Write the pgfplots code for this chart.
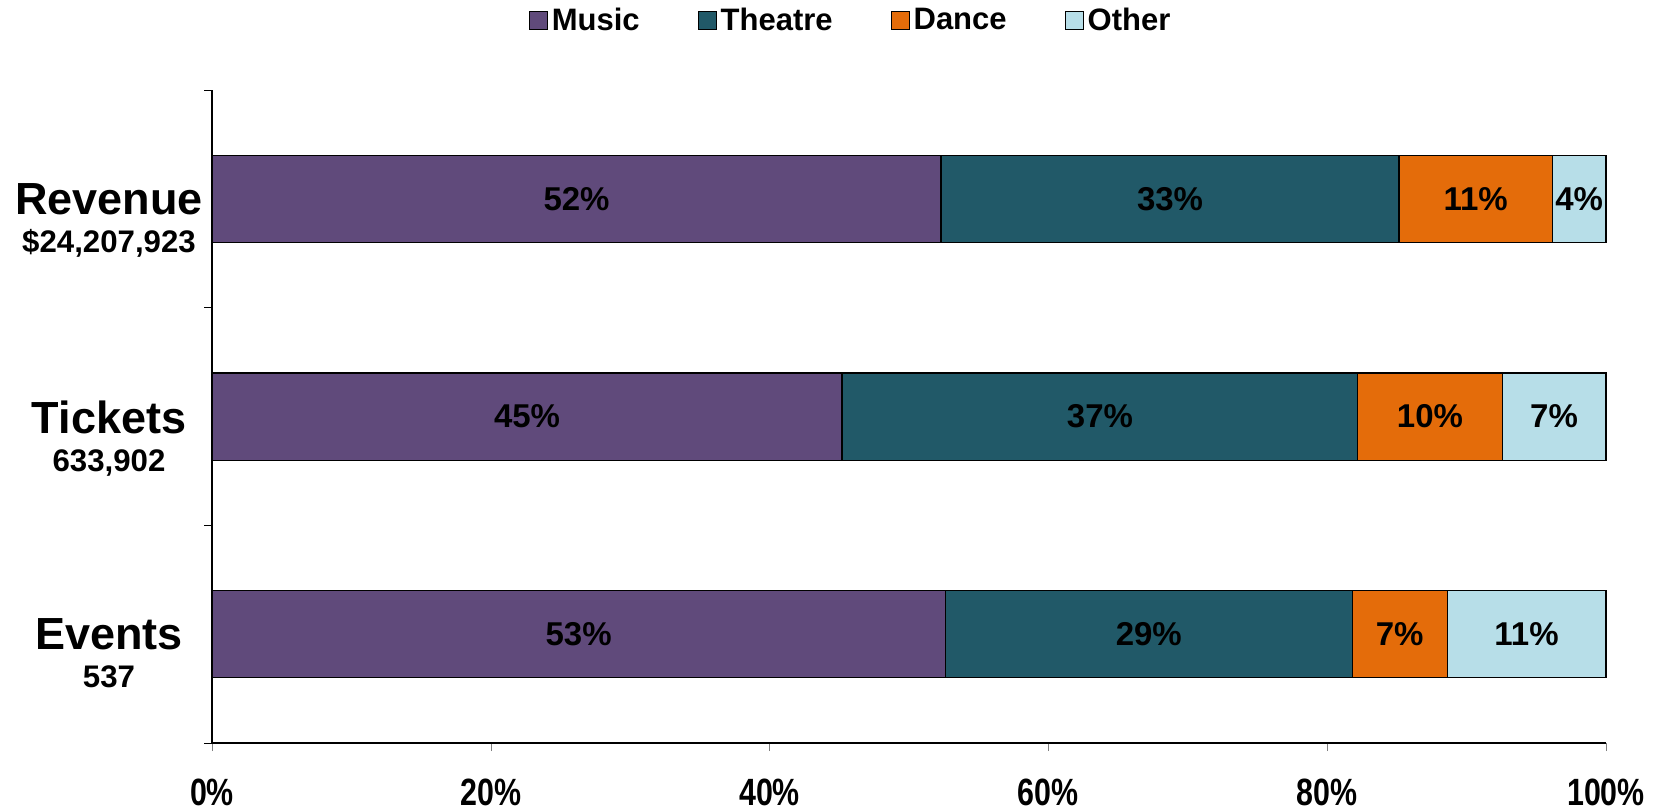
\documentclass[border=0pt]{standalone}
\usepackage{fontspec}
\setmainfont{Liberation Sans}
\newfontfamily\condensed[FakeStretch=0.8]{Liberation Sans}
\usepackage{pgfplots}
\usepackage{pgfplotstable}
\pgfplotsset{compat=1.18}
\definecolor{music}{HTML}{604A7B}
\definecolor{theatre}{HTML}{215968}
\definecolor{dance}{HTML}{E46C0A}
\definecolor{other}{HTML}{B7DEE8}
% y: 0 = Events, 1 = Tickets, 2 = Revenue ; x = share in percent
\pgfplotstableread{
y x
0 52.6
1 45.2
2 52.3
}\music
\pgfplotstableread{
y x
0 29.2
1 37.0
2 32.85
}\theatre
\pgfplotstableread{
y x
0 6.8
1 10.35
2 11.0
}\dance
\pgfplotstableread{
y x
0 11.4
1 7.45
2 3.85
}\other
\begin{document}
\begin{tikzpicture}
\path[use as bounding box] (0,0) rectangle (834.5pt,405.5pt);
\begin{axis}[
  at={(106pt,34pt)}, anchor=south west,
  scale only axis, width=697pt, height=326.5pt,
  xbar stacked, bar width=43.6pt,
  xmin=0, xmax=100, ymin=-0.5, ymax=2.5,
  axis lines=left, axis line style={-, black, line width=0.6pt},
  x axis line style={line width=1.3pt},
  xtick={0,20,40,60,80,100}, xticklabels={0\%,20\%,40\%,60\%,80\%,100\%},
  xticklabel style={font=\condensed\bfseries\fontsize{19}{22}\selectfont, anchor=center, yshift=-20.5pt},
  tick align=outside, major tick length=4pt,
  ytick={0,1,2},
  yticklabels={
    {\fontsize{22.5}{24}\selectfont Events\\[7pt]\fontsize{15.6}{18}\selectfont 537\vphantom{\$,}},
    {\fontsize{22.5}{24}\selectfont Tickets\\[7pt]\fontsize{15.6}{18}\selectfont 633,902\vphantom{\$,}},
    {\fontsize{22.5}{24}\selectfont Revenue\\[7pt]\fontsize{15.6}{18}\selectfont \$24,207,923}},
  ytick style={draw=none},
  extra y ticks={-0.5,0.5,1.5,2.5}, extra y tick labels={},
  extra y tick style={ytick style={draw=black}},
  yticklabel style={font=\bfseries, align=center, anchor=north, xshift=-47.5pt, yshift=11.4pt},
  point meta=explicit,
  nodes near coords={\pgfmathprintnumber[fixed,precision=0,assume math mode=true]{\pgfplotspointmeta}\%},
  every node near coord/.append style={anchor=center, font=\bfseries\fontsize{16.5}{19}\selectfont, text=black},
  legend style={at={(0.4588,1.106)}, anchor=center, draw=none, fill=none,
    font=\bfseries\fontsize{15.5}{18}\selectfont,
    /tikz/every even column/.append style={column sep=27pt}},
  legend columns=4,
  legend image code/.code={\draw[#1, draw=black, line width=0.5pt] (0pt,-4.5pt) rectangle (9pt,4.5pt);},
  clip=false,
]
\addplot[fill=music, draw=black, line width=0.6pt] table[x=x, y=y, meta=x] {\music};
\addplot[fill=theatre, draw=black, line width=0.6pt] table[x=x, y=y, meta=x] {\theatre};
\addplot[fill=dance, draw=black, line width=0.6pt] table[x=x, y=y, meta=x] {\dance};
\addplot[fill=other, draw=black, line width=0.6pt] table[x=x, y=y, meta=x] {\other};
\legend{Music,Theatre,Dance,Other}
\end{axis}
\end{tikzpicture}
\end{document}
